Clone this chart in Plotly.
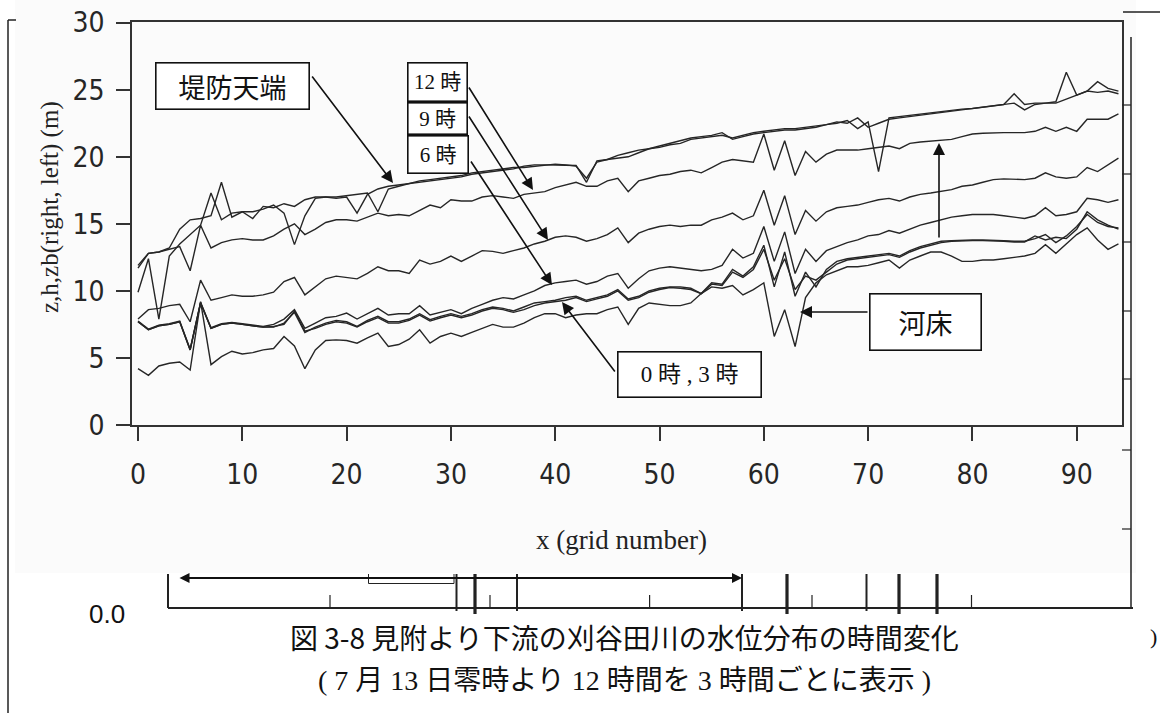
import plotly.graph_objects as go

grid = list(range(95))

levee_a = [11.9, 12.8, 12.9, 13.2, 14.6, 15.3, 15.4, 15.6, 18.1, 15.5,
           15.9, 15.4, 16.3, 16.2, 16.5, 16.3, 16.8, 17.0, 17.0, 16.9,
           17.0, 15.8, 17.2, 17.6, 17.8, 17.9, 18.0, 18.1, 18.2, 18.3,
           18.4, 18.5, 18.7, 18.8, 18.9, 19.0, 19.1, 19.3, 19.4, 19.4,
           19.4, 19.4, 19.35, 18.1, 19.7, 19.8, 19.9, 20.0, 20.3, 20.6,
           20.8, 21.0, 21.2, 21.4, 21.5, 21.6, 21.8, 21.3, 21.5, 21.7,
           21.8, 21.9, 22.0, 22.0, 22.1, 22.2, 22.4, 22.5, 22.7, 22.1,
           22.6, 18.9, 22.9, 23.0, 23.1, 23.2, 23.3, 23.4, 23.5, 23.55,
           23.6, 23.7, 23.8, 23.9, 24.7, 23.9, 24.0, 24.0, 24.1, 26.3,
           24.6, 24.9, 24.8, 24.9, 24.7]

levee_b = [9.9, 12.4, 7.9, 12.6, 13.5, 14.2, 14.9, 17.3, 15.3, 15.8,
           15.9, 15.9, 16.1, 16.4, 15.8, 13.45, 15.6, 16.9, 17.0, 17.0,
           17.1, 17.2, 17.3, 15.9, 17.6, 17.8, 18.0, 18.2, 18.3, 18.4,
           18.5, 18.6, 18.8, 18.9, 19.0, 19.1, 19.2, 19.2, 19.3, 19.4,
           19.45, 19.4, 19.3, 18.4, 19.6, 19.8, 20.1, 20.3, 20.5, 20.6,
           20.7, 20.9, 21.0, 21.3, 21.4, 21.5, 21.6, 21.4, 21.6, 21.8,
           21.9, 22.0, 22.1, 22.1, 22.2, 22.3, 22.4, 22.6, 22.5, 22.9,
           22.2, 22.5, 22.8, 22.9, 23.0, 23.1, 23.2, 23.3, 23.4, 23.5,
           23.6, 23.7, 23.8, 23.9, 24.0, 23.5, 23.9, 24.0, 24.0, 24.3,
           24.6, 24.9, 25.6, 25.1, 24.9]

h12 = [11.7, 12.8, 12.9, 13.1, 13.3, 11.5, 14.9, 13.2, 13.6, 13.8,
       13.9, 13.8, 13.8, 14.1, 14.6, 15.0, 14.2, 14.6, 15.1, 15.3,
       15.3, 15.2, 15.5, 15.8, 15.6, 15.7, 15.6, 16.0, 16.4, 16.2,
       16.8, 16.7, 16.7, 17.0, 17.1, 17.0, 16.9, 17.2, 17.3, 17.4,
       17.7, 17.9, 18.1, 17.8, 17.8, 18.2, 18.4, 17.4, 18.2, 18.4,
       18.6, 18.7, 18.9, 19.0, 18.8, 19.2, 19.6, 19.8, 19.7, 19.6,
       21.7, 19.0, 21.2, 18.6, 20.4, 19.6, 20.2, 20.5, 20.5, 20.5,
       20.6, 20.7, 20.8, 20.6, 21.0, 21.1, 21.15, 21.2, 21.3, 21.5,
       21.7, 21.75, 21.8, 21.8, 21.8, 21.8, 21.9, 22.2, 21.9, 22.2,
       21.9, 22.8, 22.8, 22.8, 23.2]

h9 = [7.9, 8.6, 8.7, 8.9, 9.0, 7.7, 10.8, 9.3, 9.5, 9.7,
      9.6, 9.6, 9.7, 9.9, 10.7, 11.0, 9.7, 10.3, 10.9, 11.1,
      11.0, 10.9, 11.3, 11.8, 11.5, 11.5, 11.3, 12.3, 12.0, 12.2,
      12.6, 12.2, 12.6, 13.0, 12.95, 12.8, 13.0, 13.2, 13.5, 13.7,
      14.0, 14.1, 14.0, 13.7, 13.9, 14.2, 14.7, 13.6, 14.3, 14.6,
      14.8, 14.9, 14.8, 14.9, 14.9, 15.3, 15.5, 15.8, 15.3, 15.6,
      17.5, 14.9, 17.1, 14.2, 16.0, 15.2, 15.9, 16.2, 16.3, 16.4,
      16.6, 16.8, 16.9, 16.7, 17.0, 17.2, 17.3, 17.4, 17.55, 17.8,
      17.9, 18.1, 18.3, 18.35, 18.35, 18.3, 18.4, 18.8, 18.5, 18.4,
      18.5, 19.2, 18.9, 19.4, 19.9]

h6 = [7.75, 7.15, 7.45, 7.55, 7.75, 5.65, 9.15, 7.25, 7.55, 7.65,
      7.55, 7.45, 7.35, 7.5, 7.9, 8.6, 7.2, 7.6, 8.0, 8.1,
      8.35, 7.9, 8.3, 8.7, 8.2, 8.3, 8.3, 8.9, 8.2, 8.4,
      8.6, 8.3, 8.7, 9.0, 9.3, 9.5, 9.4, 9.7, 10.0, 10.4,
      10.6, 10.7, 10.8, 10.5, 10.7, 11.1, 11.3, 10.2, 10.9, 11.5,
      11.7, 11.8, 11.7, 11.6, 11.5, 11.6, 11.9, 13.1, 12.45, 12.8,
      14.8, 12.2, 14.4, 11.3, 13.1, 12.2, 13.0, 13.3, 13.6, 13.8,
      14.1, 14.2, 14.5, 14.3, 14.6, 14.9, 15.1, 15.3, 15.5, 15.6,
      15.7, 15.7, 15.7, 15.6, 15.5, 15.4, 15.6, 16.2, 15.6, 15.7,
      15.9, 16.9, 16.8, 16.6, 16.8]

h3 = [7.7, 7.1, 7.4, 7.5, 7.7, 5.6, 9.1, 7.2, 7.5, 7.6,
      7.5, 7.4, 7.3, 7.35, 7.5, 8.5, 7.0, 7.2, 7.5, 7.7,
      7.6, 7.3, 7.7, 8.0, 7.6, 7.6, 7.8, 8.2, 7.75, 8.0,
      8.2, 8.0, 8.2, 8.5, 8.7, 8.6, 8.4, 8.6, 8.9, 9.1,
      9.2, 9.3, 9.5, 9.2, 9.4, 9.6, 10.0, 9.3, 9.5, 9.9,
      10.1, 10.25, 10.2, 10.1, 9.8, 10.5, 10.4, 11.4, 11.0, 11.6,
      13.1, 10.8, 12.4, 10.1, 11.1, 10.8, 11.4, 12.0, 12.3, 12.4,
      12.5, 12.6, 12.7, 12.5, 12.9, 13.2, 13.4, 13.6, 13.7, 13.75,
      13.75, 13.75, 13.75, 13.7, 13.65, 13.65, 14.1, 13.8, 14.0, 13.9,
      14.6, 15.9, 15.3, 14.9, 14.6]

h0 = [7.7, 7.1, 7.4, 7.5, 7.7, 5.6, 9.1, 7.2, 7.5, 7.6,
      7.5, 7.4, 7.3, 7.3, 7.6, 8.4, 6.9, 7.3, 7.6, 7.8,
      7.7, 7.35, 7.8, 8.1, 7.7, 7.7, 7.9, 8.3, 7.85, 8.1,
      8.3, 8.1, 8.3, 8.6, 8.8, 8.7, 8.5, 8.8, 9.1, 9.2,
      9.3, 9.5, 9.6, 9.3, 9.5, 9.7, 10.1, 9.4, 9.6, 10.0,
      10.2, 10.3, 10.3, 10.2, 9.8, 10.6, 10.5, 11.6, 11.1, 11.8,
      13.4, 10.3, 12.9, 9.6, 11.4, 10.3, 11.6, 12.2, 12.4, 12.5,
      12.6, 12.7, 12.8, 12.6, 13.0, 13.3, 13.5, 13.7, 13.75, 13.8,
      13.8, 13.8, 13.8, 13.75, 13.7, 13.7, 13.9, 14.2, 13.6, 14.1,
      14.8, 15.7, 15.1, 14.8, 14.7]

zb = [4.2, 3.7, 4.4, 4.6, 4.7, 4.1, 9.2, 4.5, 5.1, 5.5,
      5.3, 5.4, 5.6, 5.7, 6.6, 5.9, 4.2, 5.6, 6.3, 6.35,
      6.3, 6.1, 6.5, 6.85, 5.85, 6.0, 6.4, 7.1, 6.1, 6.6,
      6.85, 6.6, 6.9, 7.2, 7.5, 7.3, 7.3, 7.6, 8.0, 8.3,
      8.3, 8.0, 8.2, 8.3, 8.3, 8.6, 8.8, 7.5, 8.7, 9.1,
      9.0, 8.9, 8.9, 9.1, 9.8, 10.3, 10.2, 10.4, 9.7, 10.1,
      10.6, 6.6, 8.6, 5.85, 9.5, 10.6, 11.2, 11.5, 11.8, 11.8,
      11.9, 12.1, 12.3, 11.7, 12.3, 12.6, 12.9, 12.9, 12.6, 12.2,
      12.2, 12.3, 12.3, 12.4, 12.5, 12.6, 12.8, 13.45, 12.8, 13.5,
      14.2, 14.7, 13.8, 13.1, 13.5]

series_names = ["堤防天端(left)", "堤防天端(right)", "12時", "9時", "6時", "3時", "0時", "河床"]
series_values = [levee_a, levee_b, h12, h9, h6, h3, h0, zb]

y_ticks = [0, 5, 10, 15, 20, 25, 30]
x_ticks = [0, 10, 20, 30, 40, 50, 60, 70, 80, 90]

W, H = 1160, 713
ML, MR, MT, MB = 132, 38, 22, 288
PW, PH = W - ML - MR, H - MT - MB


def PX(px):
    return (px - ML) / PW


def PY(py):
    return (H - MB - py) / PH


fig = go.Figure()
for name, vals in zip(series_names, series_values):
    fig.add_trace(go.Scatter(x=grid, y=vals, mode="lines", name=name,
                             line=dict(color="#262626", width=1.4),
                             showlegend=False, hoverinfo="skip"))

tick_font = dict(family="Liberation Sans Narrow, Arial Narrow, DejaVu Sans Condensed, sans-serif",
                 size=28, color="#262626")
axis_common = dict(showgrid=False, zeroline=False, showline=True, linecolor="#333",
                   linewidth=1.5, mirror=True, ticks="outside", ticklen=14,
                   tickwidth=1.5, tickcolor="#333", tickfont=tick_font, automargin=False)

fig.update_xaxes(range=[-0.575, 94.34], tickvals=x_ticks, ticklabelstandoff=10, **axis_common)
fig.update_yaxes(range=[0, 30.05], tickvals=y_ticks, ticklabelstandoff=6, **axis_common)

shapes = []


def seg(x0, y0, x1, y1, w=1.5, color="#222"):
    shapes.append(dict(type="line", xref="paper", yref="paper",
                       x0=PX(x0), y0=PY(y0), x1=PX(x1), y1=PY(y1),
                       line=dict(color=color, width=w)))


# faint scanned background block
shapes.append(dict(type="rect", xref="paper", yref="paper", layer="below",
                   x0=PX(15), y0=PY(573), x1=PX(1136), y1=PY(0),
                   fillcolor="#fbfbfb", line=dict(width=0)))
# page frame fragments
seg(8, 20, 8, 713, 1.5)
seg(8, 20, 16, 20, 1.5)
seg(1123, 12, 1160, 12, 1.5)
seg(1131, 37, 1131, 608, 1.5)
for ty in [105, 174, 242, 311, 379, 450, 529]:
    seg(1122, ty, 1131, ty, 1.2)
# lower ruler fragment
seg(168, 574, 168, 608, 2)
seg(168, 608, 1133, 608, 2)
for tx in [456.5, 517, 742, 866.5]:
    seg(tx, 574, tx, 611, 2)
for tx in [475, 787, 899, 937]:
    seg(tx, 574, tx, 614, 3.2)
for tx in [330, 490, 649.6, 812, 971.5]:
    seg(tx, 595, tx, 608, 1.2)
seg(368.5, 574, 368.5, 583.5, 1)
seg(454, 574, 454, 583.5, 1)
seg(368.5, 583.5, 454, 583.5, 1)

annotations = []


def box(text, cx, cy, w, h, size, family):
    annotations.append(dict(text=text, xref="paper", yref="paper", x=PX(cx), y=PY(cy),
                            xanchor="center", yanchor="middle", showarrow=False,
                            width=w - 3, height=h - 3, borderpad=0, borderwidth=1.6,
                            bordercolor="#111", bgcolor="white",
                            font=dict(family=family, size=size, color="#111")))


def arrow(tail, tip, head=2, size=1.5):
    annotations.append(dict(text="", xref="paper", yref="paper",
                            x=PX(tip[0]), y=PY(tip[1]),
                            ax=tail[0] - tip[0], ay=tail[1] - tip[1],
                            showarrow=True, arrowhead=head, arrowsize=size,
                            arrowwidth=1.6, arrowcolor="#111"))


gothic = "Noto Sans CJK JP, sans-serif"
mixed = "Liberation Serif, Noto Sans CJK JP, serif"

arrow((311, 75), (393, 183))
arrow((468, 86), (533, 190))
arrow((468, 115), (548, 240))
arrow((470, 160), (552, 285))
arrow((616, 373), (562, 302))
arrow((869, 312), (800, 312))
arrow((939, 239), (939, 143))

box("堤防天端", 232.5, 86, 155, 48, 27, gothic)
box("12 時", 437.5, 82, 61, 40, 21, mixed)
box("9 時", 437.5, 118.4, 61, 33, 21, mixed)
box("6 時", 438, 154.5, 62, 39, 21, mixed)
box("0 時 , 3 時", 689.5, 374.4, 145, 47, 23, mixed)
box("河床", 925.5, 322, 113, 58, 27, gothic)

# axis titles
annotations.append(dict(text="x (grid number)", xref="paper", yref="paper",
                        x=PX(621), y=PY(540), xanchor="center", yanchor="middle",
                        showarrow=False,
                        font=dict(family="Liberation Serif, serif", size=27, color="#222")))
annotations.append(dict(text="z,h,zb(right, left) (m)", xref="paper", yref="paper",
                        x=PX(50), y=PY(207), xanchor="center", yanchor="middle",
                        textangle=-90, showarrow=False,
                        font=dict(family="Liberation Serif, serif", size=25, color="#222")))

# lower ruler double arrow
annotations.append(dict(text="", xref="paper", yref="paper", x=PX(742), y=PY(578),
                        ax=178 - 742, ay=0, showarrow=True, arrowhead=2, arrowside="end+start",
                        arrowsize=1, arrowwidth=2, arrowcolor="#111"))
annotations.append(dict(text="0.0", xref="paper", yref="paper", x=PX(107), y=PY(614),
                        xanchor="center", yanchor="middle", showarrow=False,
                        font=dict(family="Liberation Sans Narrow, Liberation Sans, sans-serif",
                                  size=26, color="#111")))
annotations.append(dict(text=")", xref="paper", yref="paper", x=PX(1153), y=PY(636),
                        xanchor="center", yanchor="middle", showarrow=False,
                        font=dict(family="Liberation Serif, serif", size=22, color="#111")))

# caption
annotations.append(dict(text="図 3-8 見附より下流の刈谷田川の水位分布の時間変化",
                        xref="paper", yref="paper", x=PX(624), y=PY(637),
                        xanchor="center", yanchor="middle", showarrow=False,
                        font=dict(family=gothic, size=28, color="#111")))
annotations.append(dict(text="( 7 月 13 日零時より 12 時間を 3 時間ごとに表示 )",
                        xref="paper", yref="paper", x=PX(624), y=PY(680),
                        xanchor="center", yanchor="middle", showarrow=False,
                        font=dict(family=mixed, size=28, color="#111")))

fig.update_layout(width=W, height=H, margin=dict(l=ML, r=MR, t=MT, b=MB, autoexpand=False),
                  paper_bgcolor="white", plot_bgcolor="#fcfcfc",
                  shapes=shapes, annotations=annotations, showlegend=False)

fig.write_html("out.html", config={"displayModeBar": False},
               post_script="document.body.style.margin='0px';")
